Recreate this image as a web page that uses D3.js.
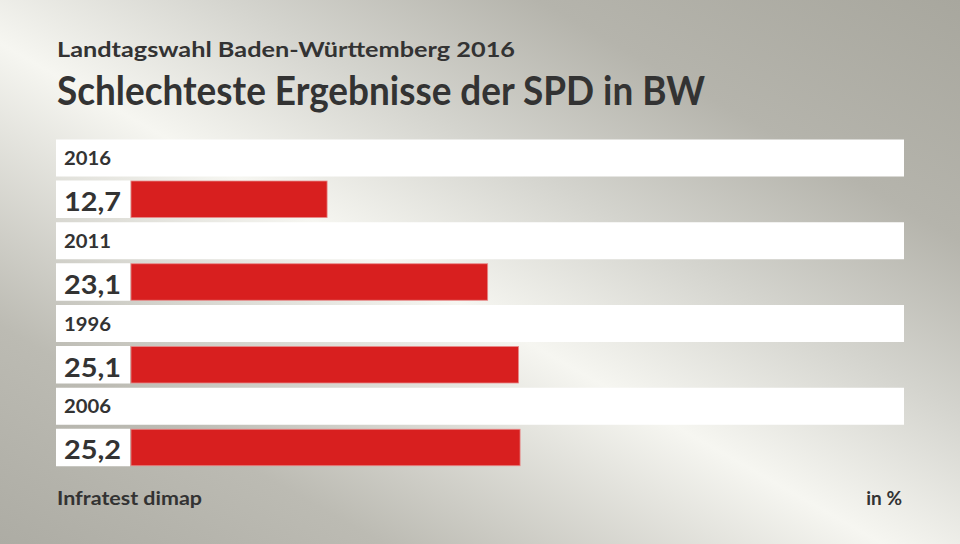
<!DOCTYPE html>
<html><head><meta charset="utf-8">
<script src="https://cdn.jsdelivr.net/npm/d3@7"></script>
<style>html,body{margin:0;padding:0;overflow:hidden;background:#fff}</style>
</head><body><svg id="c" width="960" height="544"></svg>
<script>
const years = ["2016", "2011", "1996", "2006"];
const values = [12.7, 23.1, 25.1, 25.2];
const valueLabels = ["12,7", "23,1", "25,1", "25,2"];
const subtitle = "Landtagswahl Baden-Württemberg 2016";
const title = "Schlechteste Ergebnisse der SPD in BW";
const source = "Infratest dimap";
const unit = "in %";

const svg = d3.select("#c");
const defs = svg.append("defs");
const g = defs.append("linearGradient").attr("id","bg")
  .attr("x1",0).attr("y1",1).attr("x2",1).attr("y2",0);
[[0,"#adaca4"],[0.2,"#bcbbb3"],[0.46,"#f6f6f1"],[0.62,"#d4d4ce"],[0.78,"#b5b4ac"],[1,"#a8a79e"]]
  .forEach(([o,c])=>g.append("stop").attr("offset",o).attr("stop-color",c));
svg.append("rect").attr("width",960).attr("height",544).attr("fill","url(#bg)");

const font = "Lato, 'Open Sans', sans-serif";
const ink = "#333333";

svg.append("text").attr("x",57).attr("y",57).attr("font-family",font).attr("font-weight",700)
  .attr("font-size",21).attr("fill",ink).attr("textLength",458).attr("lengthAdjust","spacingAndGlyphs").text(subtitle);
svg.append("text").attr("x",57).attr("y",105).attr("font-family",font).attr("font-weight",700)
  .attr("font-size",40).attr("fill",ink).attr("textLength",648).attr("lengthAdjust","spacingAndGlyphs").text(title);

const y = d3.scaleBand().domain(years).range([139.5, 470.5]).paddingInner(0).paddingOuter(0);
const x = d3.scaleLinear().domain([0, 50]).range([131, 903]);

const rows = svg.append("g").selectAll("g").data(years).join("g")
  .attr("transform", d => `translate(0,${y(d)})`);

rows.append("rect").attr("x",56).attr("y",0).attr("width",848).attr("height",37).attr("fill","#ffffff");
rows.append("text").attr("x",64).attr("y",25.5).attr("font-family",font).attr("font-weight",700)
  .attr("font-size",19.5).attr("fill",ink).attr("textLength",47).attr("lengthAdjust","spacingAndGlyphs").text(d=>d);

rows.append("rect").attr("x",56).attr("y",41).attr("width",74).attr("height",37.5).attr("fill","#ffffff");
rows.append("rect").attr("x",x(0)).attr("y",41.5).attr("width",(d,i)=>x(values[i])-x(0)).attr("height",36.5)
  .attr("fill","#d81f1f").attr("stroke","#e88a8a").attr("stroke-width",0.8);
rows.append("text").attr("x",64).attr("y",71.5).attr("font-family",font).attr("font-weight",700)
  .attr("font-size",27.5).attr("fill",ink).attr("textLength",57).attr("lengthAdjust","spacingAndGlyphs").text((d,i)=>valueLabels[i]);

svg.append("text").attr("x",57).attr("y",505).attr("font-family",font).attr("font-weight",700)
  .attr("font-size",19).attr("fill",ink).attr("textLength",145).attr("lengthAdjust","spacingAndGlyphs").text(source);
svg.append("text").attr("x",902).attr("y",505).attr("text-anchor","end").attr("font-family",font).attr("font-weight",700)
  .attr("font-size",19).attr("fill",ink).text(unit);
</script></body></html>
